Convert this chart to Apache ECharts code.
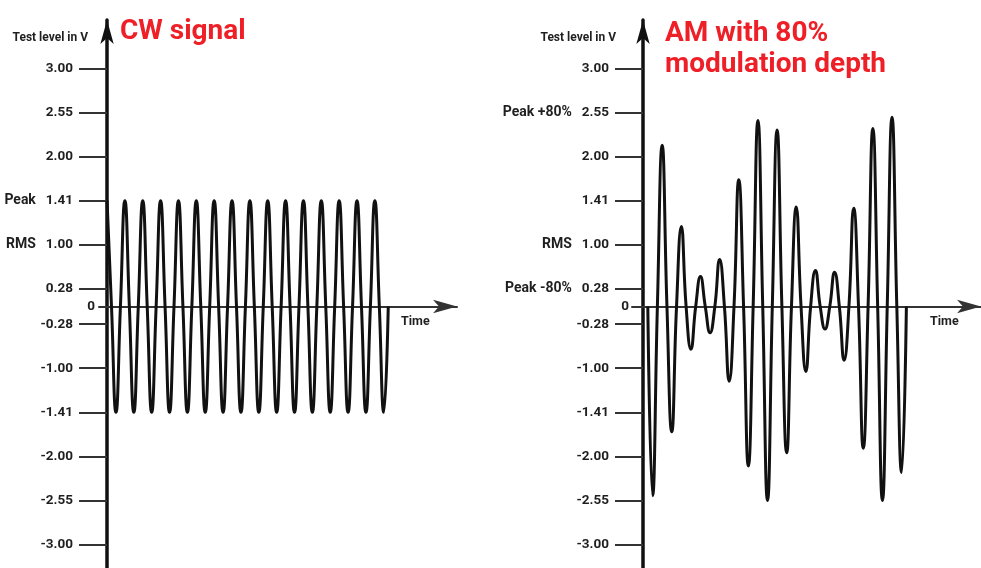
<!DOCTYPE html>
<html><head><meta charset="utf-8">
<script src="https://cdn.jsdelivr.net/npm/echarts@6/dist/echarts.min.js"></script>
<style>html,body{margin:0;padding:0;background:#fff}#c{width:981px;height:568px}</style>
</head><body><div id="c"></div><script>
// ---- data ----
const tickValues = [3.00, 2.55, 2.00, 1.41, 1.00, 0.28, 0, -0.28, -1.00, -1.41, -2.00, -2.55, -3.00];
const tickLabels = ['3.00', '2.55', '2.00', '1.41', '1.00', '0.28', '0', '-0.28', '-1.00', '-1.41', '-2.00', '-2.55', '-3.00'];
const cwMarkers = { '1.41': 'Peak', '1.00': 'RMS' };
const amMarkers = { '2.55': 'Peak +80%', '1.00': 'RMS', '0.28': 'Peak -80%' };
// CW signal: successive peaks and troughs (V)
const cwExtrema = [1.41, -1.41, 1.41, -1.41, 1.41, -1.41, 1.41, -1.41, 1.41, -1.41, 1.41, -1.41,
  1.41, -1.41, 1.41, -1.41, 1.41, -1.41, 1.41, -1.41, 1.41, -1.41, 1.41, -1.41,
  1.41, -1.41, 1.41, -1.41, 1.41, -1.41, 1.41, -1.41];
// AM signal: successive troughs and peaks (V)
const amExtrema = [-2.49, 2.14, -1.67, 1.17, -0.69, 0.48, -0.42, 0.76, -1.12, 1.69, -2.12, 2.45,
  -2.55, 2.33, -1.95, 1.35, -1.03, 0.58, -0.36, 0.55, -0.87, 1.34, -1.89, 2.35, -2.55, 2.49, -2.20];
const titles = ['CW signal', 'AM with 80%\nmodulation depth'];
const axisName = 'Test level in V';
const timeName = 'Time';

// ---- scale: the printed axis spaces its tick labels evenly (not linearly in volts) ----
const tickSlots = [5.4, 4.4, 3.4, 2.4, 1.4, 0.4, 0, -0.4, -1.4, -2.4, -3.4, -4.4, -5.4];
function toSlot(v) {
  for (let i = 0; i < tickValues.length - 1; i++) {
    const a = tickValues[i], b = tickValues[i + 1];
    if (v <= a && v >= b) {
      return tickSlots[i] + (v - a) / (b - a) * (tickSlots[i + 1] - tickSlots[i]);
    }
  }
  return v > 0 ? tickSlots[0] : tickSlots[tickSlots.length - 1];
}
function buildWave(extrema, firstT, leadingZero) {
  const pts = [];
  if (leadingZero) pts.push([firstT - 0.5, 0]);
  extrema.forEach((v, i) => {
    const t = firstT + i;
    if (i > 0) pts.push([t - 0.5, 0]);
    pts.push([t, toSlot(v)]);
  });
  pts.push([firstT + extrema.length - 0.5, 0]);
  return pts;
}

const FONT = "Roboto, 'DejaVu Sans Condensed', sans-serif";
const RED = '#ee1f26';
const INK = '#1f1f1f';

function labelFormatter(markers) {
  return function (val) {
    let idx = -1;
    tickSlots.forEach((s, i) => { if (Math.abs(s - val) < 1e-6) idx = i; });
    if (idx < 0) return '';
    const lab = tickLabels[idx];
    if (lab === '0') return '{z|0}';
    const m = markers[lab];
    return (m ? '{m|' + m + '}' : '') + '{v|' + lab + '}';
  };
}
function yAxisFor(gi, markers, numPad, namePad, margin) {
  return {
    gridIndex: gi, type: 'value', min: -5.93, max: 6.497,
    axisLine: { onZero: true, symbol: ['none', 'arrow'], symbolSize: [10, 24], lineStyle: { color: '#111', width: 3.5 } },
    axisTick: { show: true, customValues: tickSlots.filter(s => s !== 0), length: 28, lineStyle: { color: '#333', width: 2 } },
    axisLabel: {
      customValues: tickSlots, margin: margin, formatter: labelFormatter(markers),
      rich: {
        v: { fontFamily: FONT, fontSize: 13.5, fontWeight: 'bold', color: INK, padding: [0, numPad, 0, 0] },
        m: { fontFamily: FONT, fontSize: 14, fontWeight: 'bold', color: INK, padding: [0, 10, 0, 0] },
        z: { fontFamily: FONT, fontSize: 13.5, fontWeight: 'bold', color: INK }
      }
    },
    splitLine: { show: false },
    name: axisName, nameLocation: 'end', nameGap: -17.5,
    nameTextStyle: { fontFamily: FONT, fontSize: 12, fontWeight: 'bold', color: INK, align: 'right', verticalAlign: 'middle', padding: [0, namePad, 0, 0] }
  };
}
function xAxisFor(gi, min, max, gap) {
  return {
    gridIndex: gi, type: 'value', min: min, max: max,
    axisLine: { onZero: true, symbol: ['none', 'arrow'], symbolSize: [10, 24], lineStyle: { color: '#333', width: 2 } },
    axisTick: { show: false }, axisLabel: { show: false }, splitLine: { show: false },
    name: timeName, nameLocation: 'end', nameGap: gap,
    nameTextStyle: { fontFamily: FONT, fontSize: 12.5, fontWeight: 'bold', color: INK, verticalAlign: 'top', padding: [9, 0, 0, 0] }
  };
}

const chart = echarts.init(document.getElementById('c'));
chart.setOption({
  animation: false,
  backgroundColor: '#fff',
  title: [
    { text: titles[0], left: 115, top: 13, textStyle: { color: RED, fontSize: 28, fontWeight: 'bold', fontFamily: FONT } },
    { text: titles[1], left: 660, top: 13, textStyle: { color: RED, fontSize: 28, fontWeight: 'bold', fontFamily: FONT, lineHeight: 31 } }
  ],
  grid: [
    { left: 99, width: 358, top: 20, height: 548, outerBoundsMode: 'none', containLabel: false },
    { left: 632, width: 349, top: 20, height: 548, outerBoundsMode: 'none', containLabel: false }
  ],
  xAxis: [xAxisFor(0, -0.9, 39.2, -56), xAxisFor(1, -1.15, 35.29, -51)],
  yAxis: [yAxisFor(0, cwMarkers, 22, 19, 4), yAxisFor(1, amMarkers, 20, 27, 3)],
  series: [
    { type: 'line', xAxisIndex: 0, yAxisIndex: 0, data: buildWave(cwExtrema, 0, false), smooth: 0.5, showSymbol: false, clip: false, lineStyle: { color: '#111', width: 3 } },
    { type: 'line', xAxisIndex: 1, yAxisIndex: 1, data: buildWave(amExtrema, 1, true), smooth: 0.5, showSymbol: false, clip: false, lineStyle: { color: '#111', width: 3 } }
  ]
});
</script></body></html>
